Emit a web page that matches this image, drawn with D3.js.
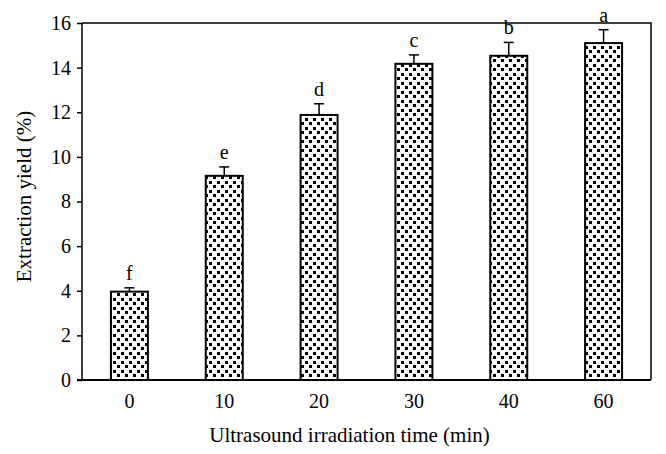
<!DOCTYPE html>
<html><head><meta charset="utf-8">
<script src="https://cdn.jsdelivr.net/npm/d3@7/dist/d3.min.js"></script>
<style>body{margin:0;background:#fff}svg{display:block}</style>
</head><body>
<script>
const categories = ["0","10","20","30","40","60"];
const values = [3.96, 9.15, 11.88, 14.17, 14.53, 15.10];
const errors = [0.17, 0.40, 0.50, 0.40, 0.60, 0.60];
const letters = ["f","e","d","c","b","a"];
const yTicks = [0,2,4,6,8,10,12,14,16];

const W=666,H=454;
const m={left:82,right:15,top:23,bottom:74};
const svg=d3.select("body").append("svg").attr("width",W).attr("height",H);
const font="Liberation Serif, Times New Roman, serif";

const defs=svg.append("defs");
const pat=defs.append("pattern").attr("id","dots").attr("patternUnits","userSpaceOnUse")
  .attr("width",8).attr("height",9);
pat.append("rect").attr("width",8).attr("height",9).attr("fill","#fff");
pat.append("rect").attr("x",1).attr("y",1).attr("width",3).attr("height",3).attr("fill","#000");
pat.append("rect").attr("x",5).attr("y",5).attr("width",3).attr("height",3).attr("fill","#000");

const x=d3.scaleBand().domain(categories).range([m.left,W-m.right]).paddingInner(0.61).paddingOuter(0.305);
const y=d3.scaleLinear().domain([0,16]).range([H-m.bottom,m.top]);

svg.append("path").attr("d",`M${m.left},${m.top}H${W-m.right}V${H-m.bottom}`)
  .attr("fill","none").attr("stroke","#000").attr("stroke-width",1.5);

svg.selectAll("rect.bar").data(values).join("rect").attr("class","bar")
  .attr("x",(d,i)=>x(categories[i])).attr("width",x.bandwidth())
  .attr("y",d=>y(d)).attr("height",d=>y(0)-y(d))
  .attr("fill","url(#dots)").attr("stroke","#000").attr("stroke-width",2);

const eb=svg.append("g").attr("stroke","#000").attr("stroke-width",1.5);
values.forEach((v,i)=>{
  const cx=x(categories[i])+x.bandwidth()/2;
  eb.append("line").attr("x1",cx).attr("x2",cx).attr("y1",y(v)).attr("y2",y(v+errors[i]));
  eb.append("line").attr("x1",cx-5).attr("x2",cx+5).attr("y1",y(v+errors[i])).attr("y2",y(v+errors[i]));
});

svg.selectAll("text.lt").data(letters).join("text").attr("class","lt")
  .attr("x",(d,i)=>x(categories[i])+x.bandwidth()/2)
  .attr("y",(d,i)=>y(values[i]+errors[i])-8)
  .attr("text-anchor","middle").attr("font-family",font).attr("font-size",20).text(d=>d);

const ya=svg.append("g").attr("transform",`translate(${m.left},0)`)
  .call(d3.axisLeft(y).tickValues(yTicks).tickSize(5).tickPadding(6).tickFormat(d3.format("d")));
ya.selectAll("path,line").attr("stroke","#000").attr("stroke-width",1.5);
ya.select("path.domain").attr("d",`M0,${y(0)}V${m.top}`);
ya.selectAll("text").attr("font-family",font).attr("font-size",20).attr("fill","#000");

const xa=svg.append("g").attr("transform",`translate(0,${y(0)})`)
  .call(d3.axisBottom(x).tickSize(0).tickPadding(14));
xa.select("path.domain").attr("d",`M${m.left-5},0H${W-m.right}`).attr("stroke","#000").attr("stroke-width",2);
xa.selectAll("text").attr("font-family",font).attr("font-size",20).attr("fill","#000");

svg.append("text").attr("x",(m.left+W-m.right)/2-17).attr("y",442).attr("text-anchor","middle")
  .attr("font-family",font).attr("font-size",21).text("Ultrasound irradiation time (min)");
svg.append("text").attr("transform",`translate(31,${(m.top+H-m.bottom)/2-5}) rotate(-90)`)
  .attr("text-anchor","middle").attr("font-family",font).attr("font-size",21).text("Extraction yield (%)");
</script>
</body></html>
